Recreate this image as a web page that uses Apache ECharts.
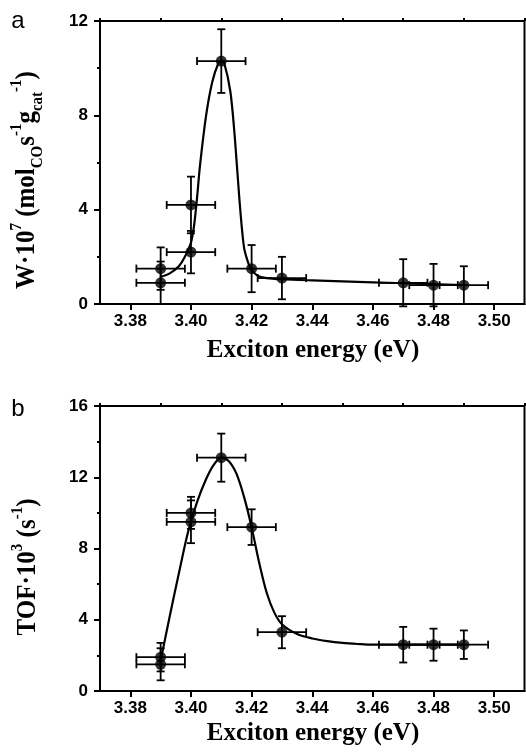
<!DOCTYPE html>
<html>
<head>
<meta charset="utf-8">
<script src="https://cdn.jsdelivr.net/npm/echarts@6/dist/echarts.min.js"></script>
<style>
html, body { margin: 0; padding: 0; background: #fff; }
#chart { width: 526px; height: 754px; }
</style>
</head>
<body>
<div id="chart"></div>
<script>
// axis ticks (shared x)
const xMajor = [3.38, 3.40, 3.42, 3.44, 3.46, 3.48, 3.50]
const xMinor = [3.37, 3.39, 3.41, 3.43, 3.45, 3.47, 3.49, 3.51]

// panel a : W·10^7
const aX = [3.39, 3.39, 3.40, 3.40, 3.41, 3.42, 3.43, 3.47, 3.48, 3.49]
const aY = [1.5, 0.9, 4.2, 2.2, 10.3, 1.5, 1.1, 0.9, 0.8, 0.8]
const aXErr = [0.008, 0.008, 0.008, 0.008, 0.008, 0.008, 0.008, 0.008, 0.008, 0.008]
const aYErr = [0.9, 0.9, 1.2, 0.9, 1.35, 1.0, 0.9, 1.0, 0.9, 0.8]
const aFitX = [3.390, 3.393, 3.396, 3.398, 3.400, 3.401, 3.402, 3.403, 3.405, 3.407, 3.409, 3.410, 3.411, 3.413, 3.4145, 3.416, 3.4175, 3.419, 3.420, 3.422, 3.425, 3.430, 3.440, 3.450, 3.460, 3.470, 3.480, 3.490]
const aFitY = [1.15, 1.3, 1.6, 2.0, 2.6, 3.3, 4.5, 5.9, 8.0, 9.4, 10.2, 10.3, 10.2, 9.0, 7.0, 4.4, 2.4, 1.7, 1.45, 1.2, 1.1, 1.05, 1.0, 0.96, 0.92, 0.88, 0.84, 0.8]

// panel b : TOF·10^3
const bX = [3.39, 3.39, 3.40, 3.40, 3.41, 3.42, 3.43, 3.47, 3.48, 3.49]
const bY = [1.9, 1.5, 10.0, 9.5, 13.1, 9.2, 3.3, 2.6, 2.6, 2.6]
const bXErr = [0.008, 0.008, 0.008, 0.008, 0.008, 0.008, 0.008, 0.008, 0.008, 0.008]
const bYErr = [0.8, 0.9, 0.9, 1.2, 1.35, 1.0, 0.9, 1.0, 0.9, 0.8]
const bFitX = [3.390, 3.393, 3.396, 3.399, 3.402, 3.405, 3.4075, 3.410, 3.4125, 3.415, 3.4175, 3.420, 3.4225, 3.425, 3.4275, 3.430, 3.435, 3.440, 3.445, 3.450, 3.455, 3.460, 3.470, 3.480, 3.490]
const bFitY = [1.7, 4.2, 6.6, 8.9, 10.6, 11.9, 12.7, 13.1, 12.9, 12.2, 10.9, 9.2, 7.2, 5.5, 4.4, 3.75, 3.2, 2.95, 2.8, 2.7, 2.64, 2.6, 2.6, 2.6, 2.6]

const sans = 'Liberation Sans'
const serif = 'Liberation Serif'

function errorBars (params, api) {
  const x = api.value(0), y = api.value(1), ex = api.value(2), ey = api.value(3)
  const l = api.coord([x - ex, y]), r = api.coord([x + ex, y])
  const t = api.coord([x, y + ey]), b = api.coord([x, y - ey])
  const cap = 4
  const st = { stroke: '#000', lineWidth: 1.8 }
  const seg = (x1, y1, x2, y2) => ({ type: 'line', shape: { x1, y1, x2, y2 }, style: st })
  return {
    type: 'group',
    children: [
      seg(l[0], l[1], r[0], r[1]),
      seg(l[0], l[1] - cap, l[0], l[1] + cap),
      seg(r[0], r[1] - cap, r[0], r[1] + cap),
      seg(t[0], t[1], b[0], b[1]),
      seg(t[0] - cap, t[1], t[0] + cap, t[1]),
      seg(b[0] - cap, b[1], b[0] + cap, b[1])
    ]
  }
}

function xAxes (gi) {
  return [
    {
      gridIndex: gi, type: 'value', min: 3.37, max: 3.51,
      axisLine: { show: true, lineStyle: { color: '#000', width: 2 } },
      axisTick: { show: true, customValues: xMajor, length: 6, lineStyle: { color: '#000', width: 2 } },
      axisLabel: { customValues: xMajor, formatter: v => v.toFixed(2), color: '#000', fontFamily: sans, fontWeight: 'bold', fontSize: 17, margin: 9 },
      splitLine: { show: false }
    },
    {
      gridIndex: gi, type: 'value', min: 3.37, max: 3.51,
      axisLine: { show: false },
      axisTick: { show: true, customValues: xMinor, length: 3, lineStyle: { color: '#000', width: 2 } },
      axisLabel: { show: false },
      splitLine: { show: false }
    }
  ]
}

function yAxis (gi, max) {
  return {
    gridIndex: gi, type: 'value', min: 0, max: max, interval: 4,
    axisLine: { show: true, lineStyle: { color: '#000', width: 2 } },
    axisTick: { show: true, length: 6, lineStyle: { color: '#000', width: 2 } },
    minorTick: { show: true, splitNumber: 2, length: 3, lineStyle: { color: '#000', width: 2 } },
    axisLabel: { color: '#000', fontFamily: sans, fontWeight: 'bold', fontSize: 17, margin: 12 },
    splitLine: { show: false }
  }
}

function panelSeries (xi, yi, xs, ys, exs, eys, fx, fy) {
  return [
    {
      type: 'line', xAxisIndex: xi, yAxisIndex: yi,
      data: fx.map((v, i) => [v, fy[i]]),
      showSymbol: false, smooth: 0.3,
      lineStyle: { color: '#000', width: 2.2 }, z: 3
    },
    {
      type: 'custom', xAxisIndex: xi, yAxisIndex: yi,
      data: xs.map((v, i) => [v, ys[i], exs[i], eys[i]]),
      encode: { x: 0, y: 1 },
      renderItem: errorBars, z: 4
    },
    {
      type: 'scatter', xAxisIndex: xi, yAxisIndex: yi,
      data: xs.map((v, i) => [v, ys[i]]),
      symbol: 'circle', symbolSize: 11,
      itemStyle: { color: '#000' }, z: 5
    }
  ]
}

const supS = { fontFamily: serif, fontWeight: 'bold', fontSize: 15, lineHeight: 15, verticalAlign: 'top', fill: '#000' }
const subS = { fontFamily: serif, fontWeight: 'bold', fontSize: 15, lineHeight: 15, verticalAlign: 'bottom', fill: '#000' }
const baseS = { fontFamily: serif, fontWeight: 'bold', fontSize: 25, lineHeight: 34, fill: '#000' }

function title (x, y, text, rot, sy) {
  return {
    type: 'text', x: x, y: y, rotation: rot || 0, scaleY: sy || 1,
    style: {
      text: text, align: 'center', verticalAlign: 'middle',
      rich: { b: baseS, sup: supS, sub: subS }
    }
  }
}

const chart = echarts.init(document.getElementById('chart'))
const option = {
  animation: false,
  backgroundColor: '#fff',
  grid: [
    { left: 100, right: 1.5, top: 21, bottom: 450, show: true, borderColor: '#000', borderWidth: 2, backgroundColor: 'transparent' },
    { left: 100, right: 1.5, top: 406, bottom: 63, show: true, borderColor: '#000', borderWidth: 2, backgroundColor: 'transparent' }
  ],
  xAxis: [].concat(xAxes(0), xAxes(1)),
  yAxis: [yAxis(0, 12), yAxis(1, 16)],
  series: [].concat(
    panelSeries(0, 0, aX, aY, aXErr, aYErr, aFitX, aFitY),
    panelSeries(2, 1, bX, bY, bXErr, bYErr, bFitX, bFitY)
  ),
  graphic: [
    { type: 'text', x: 18, y: 21, style: { text: 'a', font: '24px "Liberation Sans"', fill: '#000', align: 'center', verticalAlign: 'middle' } },
    { type: 'text', x: 18, y: 409, style: { text: 'b', font: '24px "Liberation Sans"', fill: '#000', align: 'center', verticalAlign: 'middle' } },
    title(313, 351, '{b|Exciton energy (eV)}'),
    title(313, 734, '{b|Exciton energy (eV)}'),
    title(27, 180, '{b|W·10}{sup|7}{b| (mol}{sub|CO}{b|s}{sup|-1}{b|g}{sub|cat}{sup|-1}{b|)}', Math.PI / 2, 1.12),
    title(28, 567, '{b|TOF·10}{sup|3}{b| (s}{sup|-1}{b|)}', Math.PI / 2, 1.12)
  ]
}
chart.setOption(option)
window.onresize = chart.resize
</script>
</body>
</html>
